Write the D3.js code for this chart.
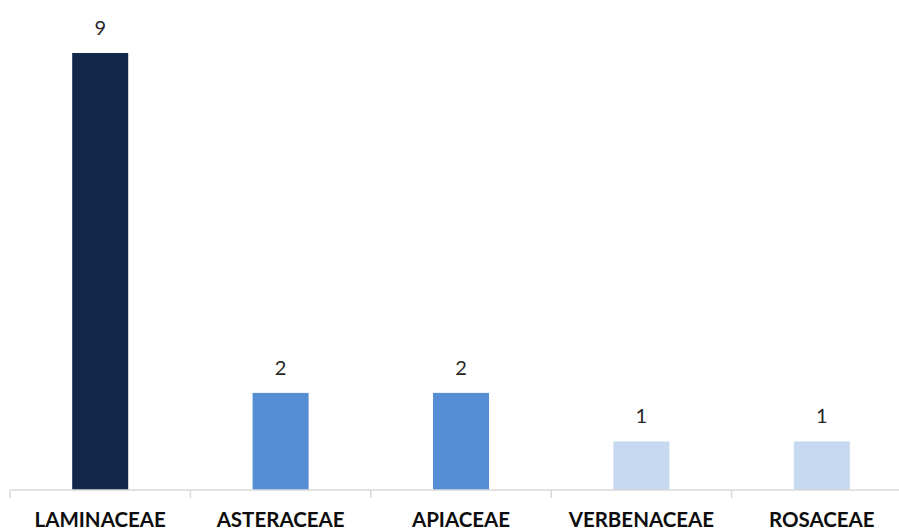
<!DOCTYPE html>
<html><head><meta charset="utf-8">
<script src="https://cdn.jsdelivr.net/npm/d3@7"></script>
<style>body{margin:0;background:#fff}svg{display:block}</style>
</head><body>
<script>
const categories = ["LAMINACEAE","ASTERACEAE","APIACEAE","VERBENACEAE","ROSACEAE"];
const values = [9,2,2,1,1];
const colors = ["#13294b","#558ed5","#558ed5","#c6d9f1","#c6d9f1"];

const W = 899, H = 530;
const svg = d3.select("body").append("svg").attr("width", W).attr("height", H);

const x = d3.scaleBand().domain(categories).range([10, 912]).paddingInner(0).paddingOuter(0);
const y = d3.scaleLinear().domain([0, 9]).range([490, 53]);
const barW = 56;

svg.selectAll("rect.bar").data(categories).join("rect")
  .attr("class","bar")
  .attr("x", d => x(d) + x.bandwidth()/2 - barW/2)
  .attr("width", barW)
  .attr("y", (d,i) => y(values[i]))
  .attr("height", (d,i) => y(0) - y(values[i]))
  .attr("fill", (d,i) => colors[i]);

// axis
const ax = svg.append("g").attr("transform", "translate(0,490)")
  .call(d3.axisBottom(x).tickSize(0).tickFormat(""));
ax.select(".domain").attr("stroke","#d9d9d9").attr("stroke-width",1.5).attr("d","M10,0H899");
ax.selectAll(".tick").remove();
const bounds = categories.map(d => x(d));
svg.selectAll("line.tk").data(bounds).join("line")
  .attr("x1", d=>d).attr("x2", d=>d).attr("y1",490).attr("y2",498)
  .attr("stroke","#d9d9d9").attr("stroke-width",1.5);

svg.selectAll("text.cat").data(categories).join("text")
  .attr("class","cat")
  .attr("x", d => x(d) + x.bandwidth()/2)
  .attr("y", 527)
  .attr("text-anchor","middle")
  .attr("font-family","Lato, 'Open Sans', sans-serif")
  .attr("font-weight","bold")
  .attr("font-size", 20.5)
  .attr("fill","#0d0d0d")
  .text(d => d);

svg.selectAll("text.val").data(categories).join("text")
  .attr("class","val")
  .attr("x", d => x(d) + x.bandwidth()/2)
  .attr("y", (d,i) => y(values[i]) - 18)
  .attr("text-anchor","middle")
  .attr("font-family","Lato, 'Open Sans', sans-serif")
  .attr("font-size", 20)
  .attr("fill","#262626")
  .text((d,i) => values[i]);
</script>
</body></html>
